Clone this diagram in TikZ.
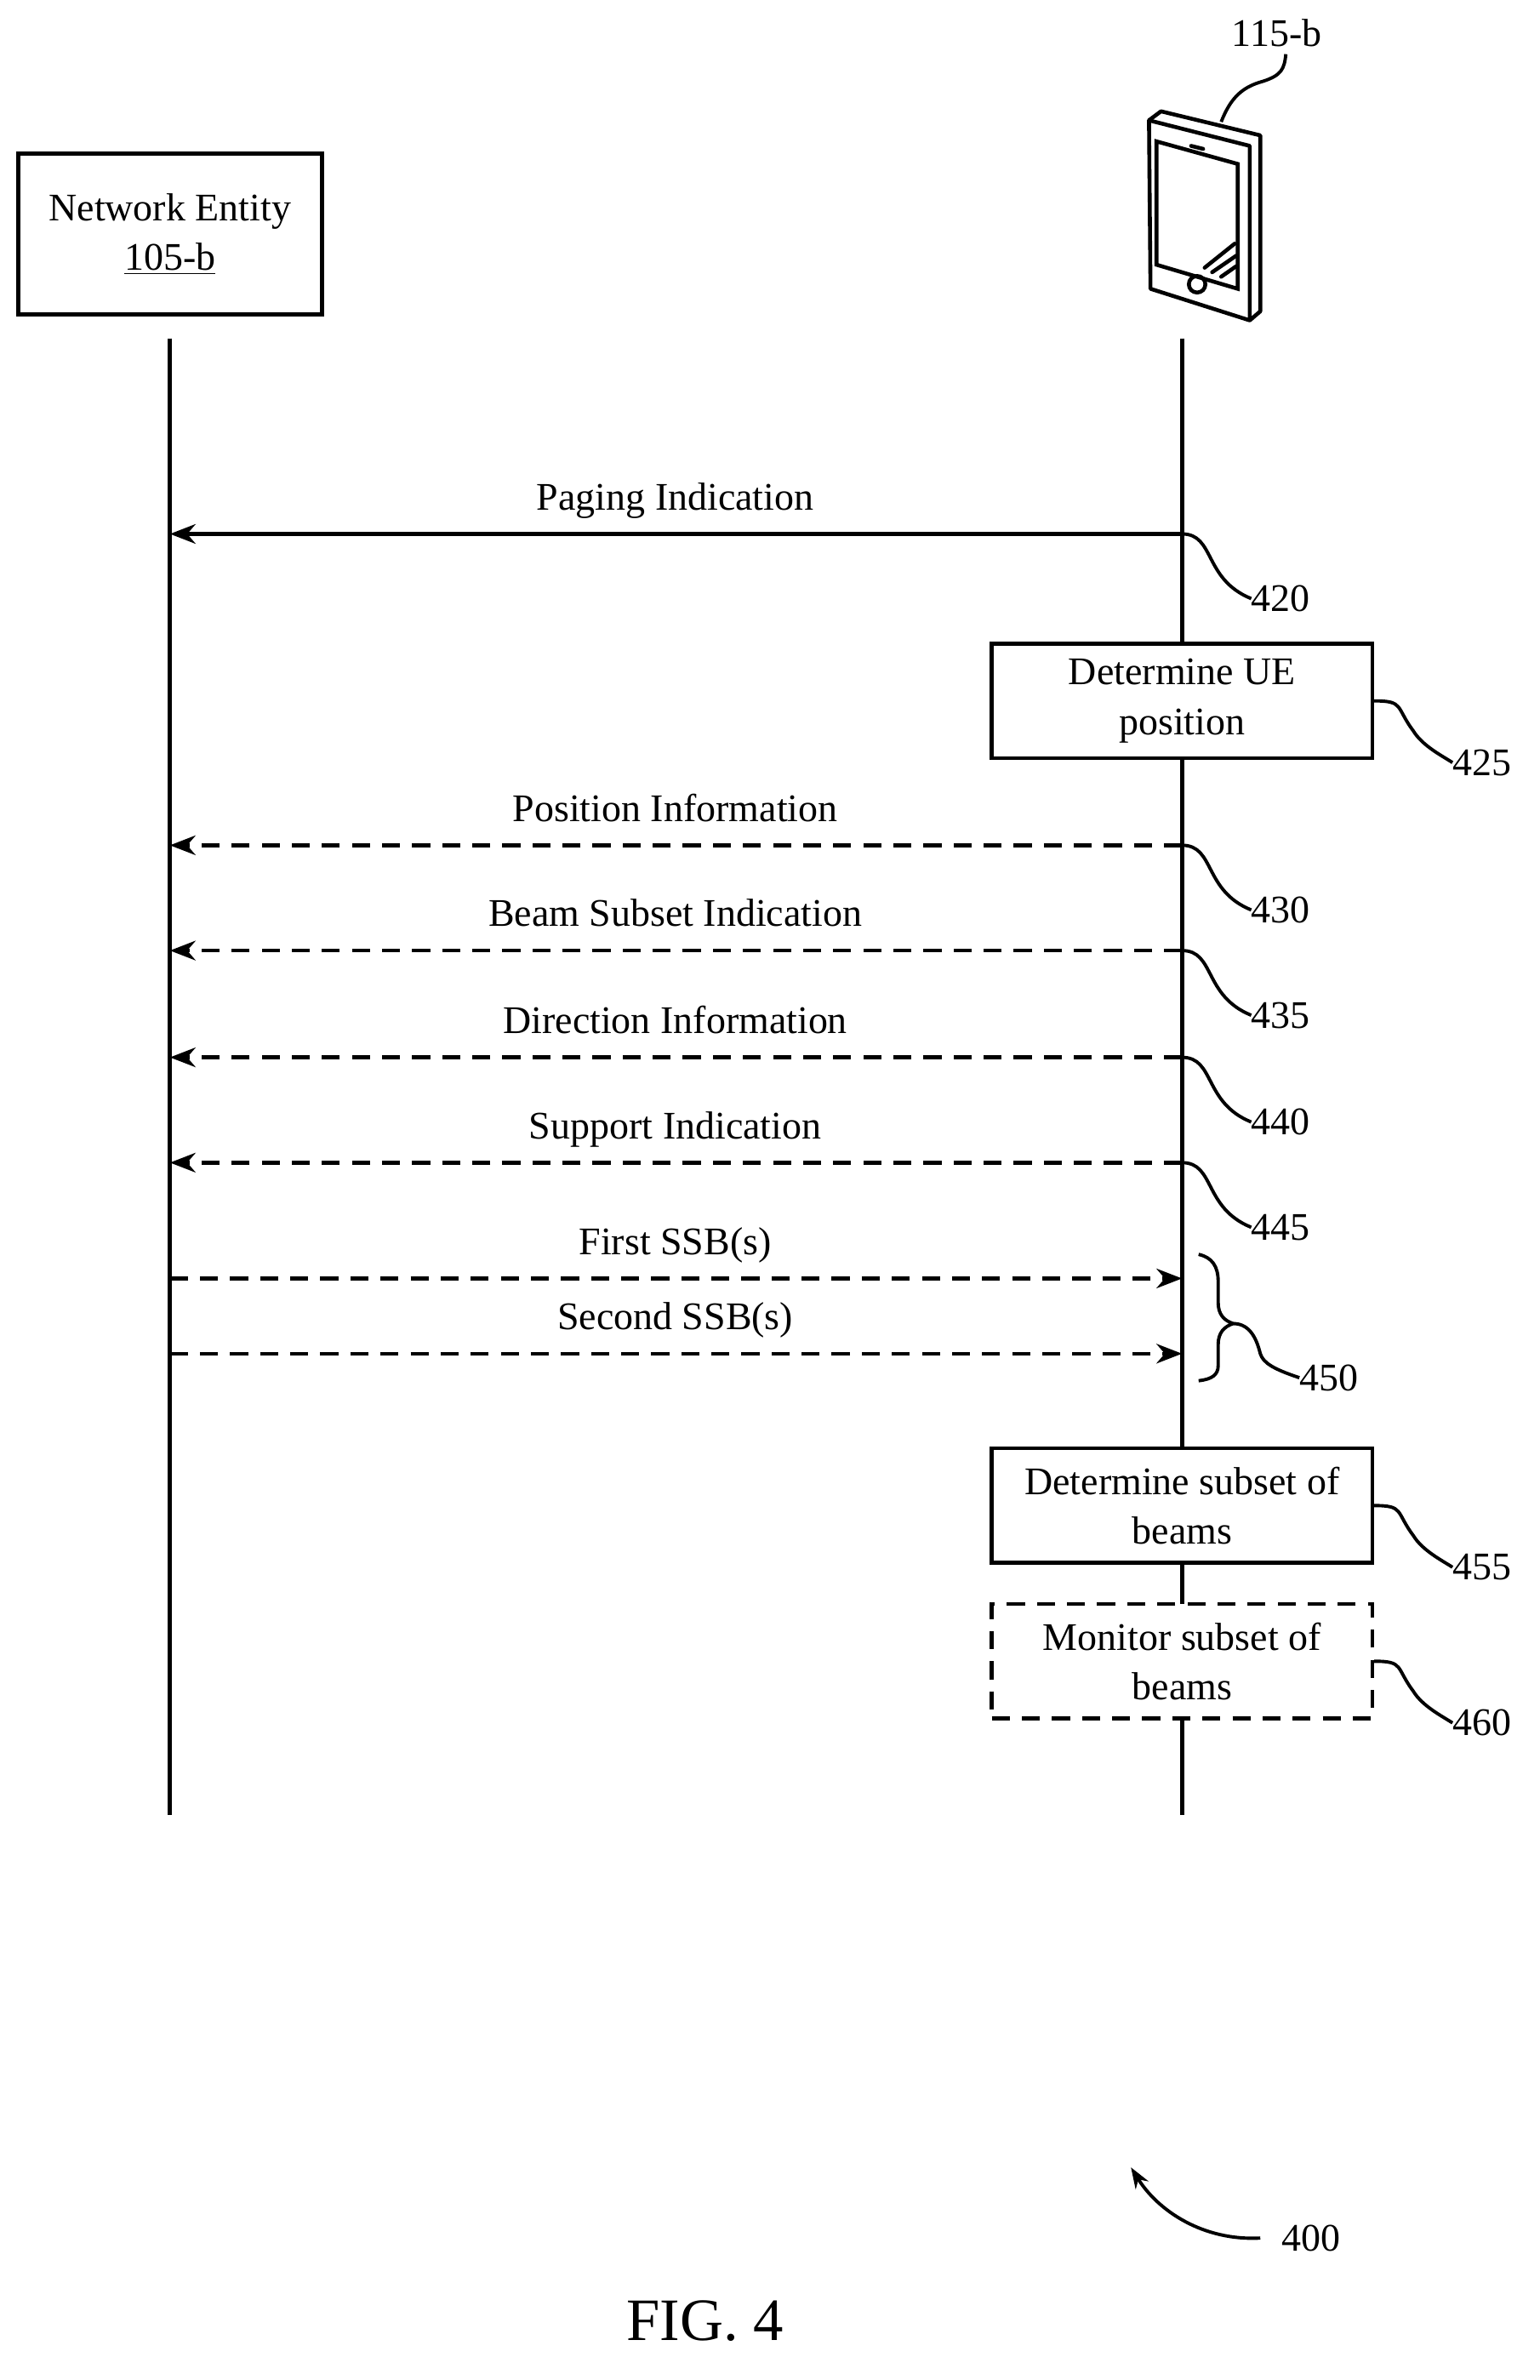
\documentclass[tikz,border=0pt]{standalone}
\usepackage{fontspec}
\setmainfont{Liberation Serif}
\usetikzlibrary{arrows.meta}

\tikzset{
  line/.style={line width=2.6pt},
  msg/.style={line, -{Stealth[length=17pt,width=13pt]}},
  opt/.style={dash pattern=on 12pt off 8pt},
  stepbox/.style={line, fill=white, draw, minimum width=253pt, minimum height=76pt,
    align=center, inner sep=0pt},
  lbl/.style={inner sep=0pt},
  lead/.style={line width=2.2pt},
}

\begin{document}
\begin{tikzpicture}[x=1pt,y=-1pt,font=\fontsize{26}{33}\selectfont]
\useasboundingbox (0,0) rectangle (1024,1582.4);

% network entity
\node[line, draw, minimum width=202pt, minimum height=107pt, align=center, inner sep=0pt]
  (ne) at (113,155.5) {Network Entity\\\underline{105-b}};
\coordinate (neTop) at (113,225);
\coordinate (neBot) at (113,1207);
\coordinate (ueTop) at (786,225);
\coordinate (ueBot) at (786,1207);
\draw[line] (neTop) -- (neBot);
\draw[line] (ueTop) -- (ueBot);

% UE phone
\draw[line, line join=round] (764,80) -- (772,74) -- (838,90) -- (838,207) -- (831,213);
\draw[line, fill=white, line join=round] (764,80) -- (831,97) -- (831,213) -- (765,192) -- cycle;
\draw[line] (769,94) -- (823,109) -- (823,192) -- (769,176) -- cycle;
\draw[line, line cap=round] (792,97) -- (800,99);
\draw[line] (796,189) circle (5.5);
\draw[line, line cap=round] (801,178) -- (821,162) (806,181) -- (822,170) (812,184) -- (822,177);
\node[lbl] (ueLbl) at (849,22) {115-b};
\draw[lead] (812,81) .. controls (818,66) and (825,58) .. (840,54) .. controls (852,50) and (854,46) .. (855,36);

% messages
\foreach \y/\txt/\dir/\sty/\num in {
  355/Paging Indication/r/solid/420,
  562/Position Information/l/opt/430,
  632/Beam Subset Indication/r/opt/435,
  703/Direction Information/r/opt/440,
  773/Support Indication/r/opt/445}{
  \coordinate (L\num) at (113,\y);
  \coordinate (R\num) at (786,\y);
  \node[lbl, anchor=base] (t\num) at (449,\y-16) {\txt};
  \ifx r\dir
    \draw[msg, \sty] (L\num) -- (R\num);
  \else
    \draw[msg, \sty] (R\num) -- (L\num);
  \fi
  \node[lbl, anchor=west] (n\num) at (832,\y+43) {\num};
  \draw[lead] (R\num) .. controls (808,\y) and (800,\y+30) .. (n\num.west);
}

% SSBs
\coordinate (Lssb1) at (113,850);
\coordinate (Rssb1) at (786,850);
\coordinate (Lssb2) at (113,900);
\coordinate (Rssb2) at (786,900);
\node[lbl, anchor=base] (tssb1) at (449,834) {First SSB(s)};
\node[lbl, anchor=base] (tssb2) at (449,884) {Second SSB(s)};
\draw[msg, opt] (Lssb1) -- (Rssb1);
\draw[msg, opt] (Lssb2) -- (Rssb2);
\draw[lead] (797,834) .. controls (806,836) and (810,842) .. (810,852) -- (810,866)
  .. controls (810,874) and (814,878) .. (820,880)
  .. controls (814,882) and (810,886) .. (810,894) -- (810,908)
  .. controls (810,914) and (806,917) .. (797,918);
\node[lbl, anchor=west] (n450) at (864,916) {450};
\draw[lead] (820,880) .. controls (832,880) and (836,892) .. (838,900)
  .. controls (840,906) and (846,910) .. (n450.west);

% UE processing
\node[stepbox] (pos) at (786,466) {Determine UE\\position};
\node[stepbox] (beams) at (786,1001) {Determine subset of\\beams};
\node[stepbox, opt] (mon) at (786,1104.5) {Monitor subset of\\beams};
\foreach \b/\num in {pos/425, beams/455, mon/460}{
  \node[lbl, anchor=west] (n\num) at ([xshift=52pt,yshift=-41pt]\b.east) {\num};
  \draw[lead] (\b.east) .. controls ++(20,0) and ++(-12,-16) .. ++(26,20)
    .. controls ++(6,10) and ++(-6,-4) .. (n\num.west);
}

% figure label
\node[lbl, anchor=west] (n400) at (852,1488) {400};
\draw[lead, -{Stealth[length=14pt,width=10pt]}] (n400.west) ++(-14,0)
  .. controls (800,1490) and (770,1470) .. (752,1441);
\node[lbl, font=\fontsize{40}{48}\selectfont] (fig) at (469,1543) {FIG. 4};
\end{tikzpicture}
\end{document}
